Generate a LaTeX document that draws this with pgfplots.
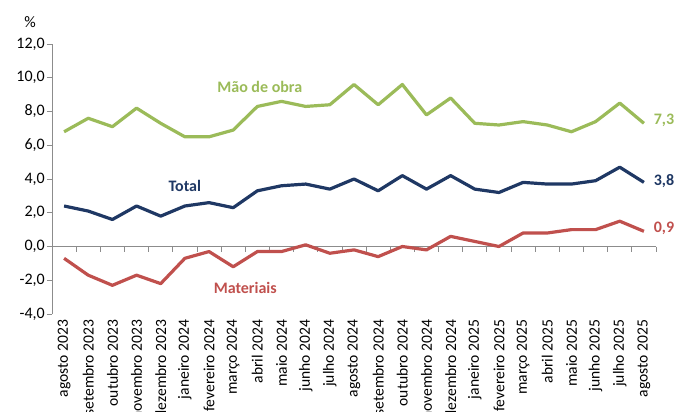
\documentclass[border=0pt]{standalone}
\usepackage{pgfplots}
\pgfplotsset{compat=1.18}
\usepackage{fontspec}
\setmainfont{Carlito}
\definecolor{cgreen}{HTML}{9BBB59}
\definecolor{cblue}{HTML}{1F3864}
\definecolor{cred}{HTML}{C0504D}
\definecolor{caxis}{HTML}{8C8C8C}
\begin{document}
\fontsize{16bp}{19bp}\selectfont
\begin{tikzpicture}
\begin{axis}[
  scale only axis, width=604bp, height=270bp,
  xmin=-0.5, xmax=24.5, ymin=-4, ymax=12,
  axis lines=left,
  x axis line style={draw=none}, 
  y axis line style={caxis, line width=0.8bp, -},
  xtick={0,...,24},
  xticklabels={agosto 2023,setembro 2023,outubro 2023,novembro 2023,dezembro 2023,janeiro 2024,fevereiro 2024,março 2024,abril 2024,maio 2024,junho 2024,julho 2024,agosto 2024,setembro 2024,outubro 2024,novembro 2024,dezembro 2024,janeiro 2025,fevereiro 2025,março 2025,abril 2025,maio 2025,junho 2025,julho 2025,agosto 2025},
  x tick label style={rotate=90, anchor=east, font=\fontsize{15.6bp}{19bp}\selectfont, inner sep=0.5bp},
  xticklabel shift=0pt,
  major x tick style={draw=none},
  ytick={-4,-2,...,12},
  y tick label style={font=\fontsize{16bp}{19bp}\selectfont, inner sep=2bp},
  ytick style={caxis, line width=0.8bp},
  tick align=outside, major tick length=5bp,
  yticklabel style={/pgf/number format/.cd, use comma, fixed, fixed zerofill, precision=1, assume math mode=true},
  clip=false,
  line join=round,
]
\draw[caxis, line width=0.8bp] (axis cs:-0.5,0) -- (axis cs:24.5,0);
\pgfplotsinvokeforeach{0.5,1.5,2.5,3.5,4.5,5.5,6.5,7.5,8.5,9.5,10.5,11.5,12.5,13.5,14.5,15.5,16.5,17.5,18.5,19.5,20.5,21.5,22.5,23.5,24.5}{
  \draw[caxis, line width=0.8bp] (axis cs:#1,0) -- ([yshift=-5bp]axis cs:#1,0);
}
\addplot[cgreen, line width=3.2bp] coordinates {
(0,6.8)(1,7.6)(2,7.1)(3,8.2)(4,7.3)(5,6.5)(6,6.5)(7,6.9)(8,8.3)(9,8.6)(10,8.3)(11,8.4)(12,9.6)(13,8.4)(14,9.6)(15,7.8)(16,8.8)(17,7.3)(18,7.2)(19,7.4)(20,7.2)(21,6.8)(22,7.4)(23,8.5)(24,7.3)};
\addplot[cblue, line width=3.2bp] coordinates {
(0,2.4)(1,2.1)(2,1.6)(3,2.4)(4,1.8)(5,2.4)(6,2.6)(7,2.3)(8,3.3)(9,3.6)(10,3.7)(11,3.4)(12,4.0)(13,3.3)(14,4.2)(15,3.4)(16,4.2)(17,3.4)(18,3.2)(19,3.8)(20,3.7)(21,3.7)(22,3.9)(23,4.7)(24,3.8)};
\addplot[cred, line width=3.2bp] coordinates {
(0,-0.7)(1,-1.7)(2,-2.3)(3,-1.7)(4,-2.2)(5,-0.7)(6,-0.3)(7,-1.2)(8,-0.3)(9,-0.3)(10,0.1)(11,-0.4)(12,-0.2)(13,-0.6)(14,0.0)(15,-0.2)(16,0.6)(17,0.3)(18,0.0)(19,0.8)(20,0.8)(21,1.0)(22,1.0)(23,1.5)(24,0.9)};
\node[text=cgreen, font=\bfseries] at (axis cs:8.1,9.47) {Mão de obra};
\node[text=cblue, font=\bfseries] at (axis cs:5.0,3.6) {Total};
\node[text=cred, font=\bfseries] at (axis cs:7.5,-2.45) {Materiais};
\node[text=cgreen, font=\bfseries, anchor=west, inner sep=0pt] at (axis cs:24.4,7.45) {7,3};
\node[text=cblue, font=\bfseries, anchor=west, inner sep=0pt] at (axis cs:24.4,3.85) {3,8};
\node[text=cred, font=\bfseries, anchor=west, inner sep=0pt] at (axis cs:24.4,1.1) {0,9};
\node at ([xshift=-22bp, yshift=22bp]rel axis cs:0,1) {\%};
\coordinate (SW) at (rel axis cs:0,0);
\coordinate (NE) at (rel axis cs:1,1);
\end{axis}
\pgfresetboundingbox
\path ([xshift=-52bp, yshift=-98bp]SW) rectangle ([xshift=20bp, yshift=44bp]NE);
\end{tikzpicture}
\end{document}
